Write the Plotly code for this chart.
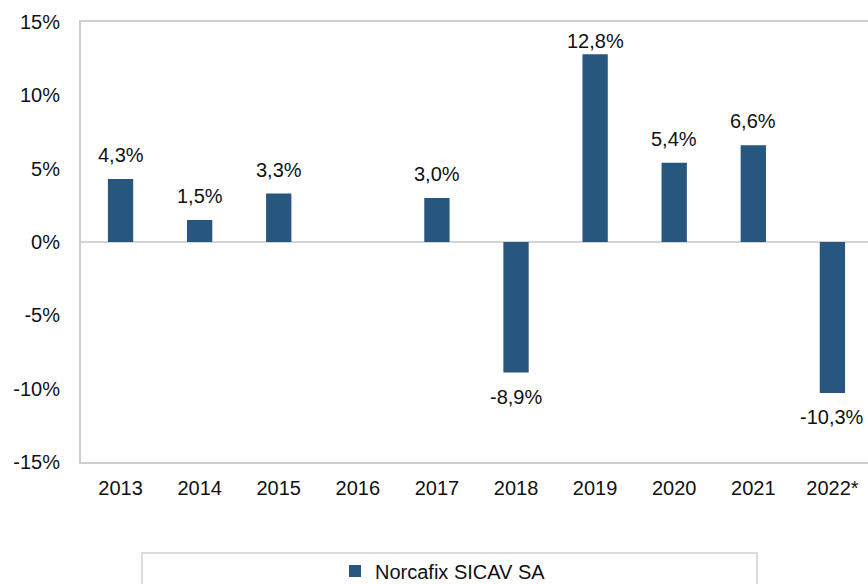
import plotly.graph_objects as go

years = ["2013", "2014", "2015", "2016", "2017", "2018", "2019", "2020", "2021", "2022*"]
returns = [4.3, 1.5, 3.3, None, 3.0, -8.9, 12.8, 5.4, 6.6, -10.3]
y_ticks = [-15, -10, -5, 0, 5, 10, 15]
y_tick_labels = ["-15%", "-10%", "-5%", "0%", "5%", "10%", "15%"]
series_name = "Norcafix SICAV SA"

BAR = "#27567f"
FRAME = "#cdcdd4"
FONT = "Liberation Sans, Arial, Helvetica, sans-serif"
FS = 20
Y_MIN, Y_MAX = -15, 15
PLOT_H = 440
PX_PER_UNIT = PLOT_H / (Y_MAX - Y_MIN)

fig = go.Figure()
fig.add_trace(go.Bar(
    x=years, y=returns, name=series_name,
    marker=dict(color=BAR, line=dict(width=0)),
    width=0.32, showlegend=True,
))

annotations = []
for i, v in enumerate(returns):
    if v is None:
        continue
    label = f"{v:.1f}%".replace(".", ",")
    if v >= 0:
        # keep label inside the plot area (labels near the top get pushed closer)
        shift = max(0, min(11, (Y_MAX - v) * PX_PER_UNIT - 32))
    else:
        shift = -11
    annotations.append(dict(
        x=i, y=v, xref="x", yref="y", text=label, showarrow=False,
        yanchor="bottom" if v >= 0 else "top",
        yshift=shift,
        font=dict(size=FS, color="#111111", family=FONT),
    ))

fig.update_layout(
    width=868, height=584,
    margin=dict(l=81, r=0, t=22, b=122, autoexpand=False),
    paper_bgcolor="white", plot_bgcolor="white",
    font=dict(family=FONT, size=FS, color="#111111"),
    annotations=annotations,
    showlegend=True,
    legend=dict(
        orientation="h", x=(443 - 81) / 787, xanchor="center",
        y=(462 - 571) / 440, yanchor="middle",
        font=dict(size=FS, color="#111111", family=FONT),
        itemwidth=30, bgcolor="rgba(0,0,0,0)",
    ),
    shapes=[dict(
        type="rect", xref="paper", yref="paper",
        x0=(142 - 81) / 787, x1=(757 - 81) / 787,
        y0=(462 - 600) / 440, y1=(462 - 553) / 440,
        line=dict(color="#dcdcdc", width=2), fillcolor="rgba(0,0,0,0)",
        layer="below",
    )],
)

fig.update_xaxes(
    type="category", range=[-0.5, 9.45], automargin=False,
    showline=True, linecolor=FRAME, linewidth=2, mirror=True,
    showgrid=False, zeroline=False,
    ticks="outside", ticklen=7, tickcolor="rgba(0,0,0,0)",
    tickfont=dict(size=FS, color="#111111", family=FONT),
)
fig.update_yaxes(
    range=[Y_MIN, Y_MAX], tickvals=y_ticks, ticktext=y_tick_labels, automargin=False,
    showline=True, linecolor=FRAME, linewidth=2, mirror=False,
    showgrid=False, zeroline=True, zerolinecolor="#d4d4d8", zerolinewidth=2,
    ticks="outside", ticklen=15, tickcolor="rgba(0,0,0,0)",
    tickfont=dict(size=FS, color="#111111", family=FONT),
)

fig.write_html(
    "out.html",
    config={"displayModeBar": False},
    post_script="document.body.style.margin='0';document.body.style.overflow='hidden';",
)
